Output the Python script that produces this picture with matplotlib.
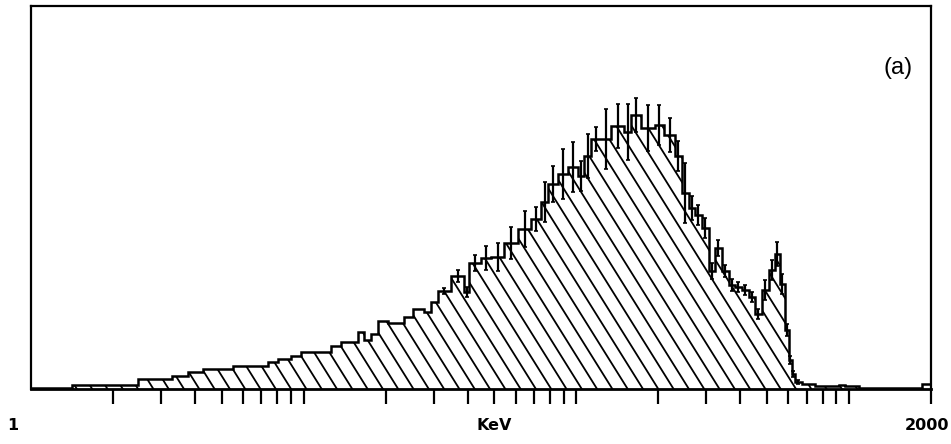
import numpy as np
import matplotlib
matplotlib.use("Agg")
import matplotlib.pyplot as plt
from matplotlib.lines import Line2D

# ---- data (energy bin edges in keV, counts in arbitrary units, statistical errors) ----
edges_kev = [1, 1.415, 2.474, 3.30, 3.78, 4.29, 5.53, 7.37, 8.02, 8.96,
             9.75, 12.57, 13.68, 15.79, 16.62, 17.64, 18.71, 20.37, 23.32, 25.16,
             27.62, 29.31, 31.10, 34.71, 38.75, 40.43, 44.75, 48.70, 54.36, 61.19,
             68.32, 74.36, 78.90, 85.88, 93.46, 101.7, 107.0, 113.5, 123.6, 134.5,
             150.2, 159.3, 173.4, 193.6, 210.6, 229.3, 243.3, 258.1, 271.6, 288.2,
             305.8, 321.7, 341.4, 362.2, 381.0, 404.3, 429.0, 451.2, 478.7, 508.1,
             534.5, 557.6, 581.7, 601.7, 617.2, 633.1, 671.9, 749.9, 918.9, 966.7,
             1088, 1855, 2000]

counts = [1.5, 4, 10, 13.5, 17.5, 20, 23, 27, 30, 33,
          37.5, 43, 47, 57, 49, 55, 68, 66, 72, 80,
          77, 87, 98, 113, 97, 126, 131, 132, 146, 160,
          170, 187, 205, 215, 222, 213, 233, 250, 250, 263,
          257, 274, 261, 264, 254, 233, 196, 181, 174, 161,
          118, 141, 118, 104, 102, 99, 92, 75, 99, 119,
          135, 105, 59, 29, 15, 7, 5, 3, 4.5, 3,
          1.5, 5]

errors = [0] * 22 + [3, 6, 5, 8, 12, 14, 16, 18, 12, 20,
                     18, 25, 25, 15, 22, 12, 30, 22, 28, 17,
                     23, 20, 17, 15, 30, 12, 10, 10, 8, 8,
                     6, 6, 5, 5, 5, 5, 10, 10, 12, 10,
                     6, 4, 3, 2, 0, 0, 0, 0, 0, 0]

major_ticks = [2, 3, 4, 5, 6, 7, 8, 9, 10,
               20, 30, 40, 50, 60, 70, 80, 90, 100,
               200, 300, 400, 500, 600, 700, 800, 900, 1000, 2000]

x_min_label = "1"
x_max_label = "2000"
x_unit_label = "KeV"
panel_label = "(a)"

# ---- figure ----
FW, FH = 951, 444
fig = plt.figure(figsize=(FW / 100, FH / 100), dpi=100)
L, B, W, H = 31 / FW, 55 / FH, 900 / FW, 383 / FH
ax = fig.add_axes([L, B, W, H])
ax.set_xscale('log')
ax.set_xlim(1, 2000)
ax.set_ylim(0, 383)

edges = np.array(edges_kev, dtype=float)
cnt = np.array(counts, dtype=float)
err = np.array(errors, dtype=float)

# filled region (used as clip path for the hand-drawn hatching)
fillpatch = ax.stairs(cnt, edges, fill=True, facecolor='white',
                      edgecolor='none', baseline=0, zorder=1)

# steep "\" hatching clipped to the histogram area
W_px, H_px = W * FW, H * FH
slope = 1.6
spacing = 15.3
for xb in np.arange(0, W_px + H_px / slope + spacing, spacing):
    x0 = (xb - H_px / slope) / W_px
    x1 = xb / W_px
    ln = Line2D([x0, x1], [1, 0], transform=ax.transAxes,
                color='black', lw=1.3, zorder=2)
    ln.set_clip_path(fillpatch)
    ax.add_line(ln)

# outline
ax.stairs(cnt, edges, fill=False, color='black', lw=1.8, baseline=0, zorder=3)

# error bars
centers = np.sqrt(edges[:-1] * edges[1:])
m = err > 0
ax.errorbar(centers[m], cnt[m], yerr=err[m], fmt='none', ecolor='black',
            elinewidth=1.6, capsize=1.5, capthick=1.2, zorder=4)

# frame
for s in ax.spines.values():
    s.set_color('black')
    s.set_linewidth(1.6)
ax.spines['bottom'].set_linewidth(2.0)

ax.set_xticks(major_ticks)
ax.xaxis.set_minor_locator(matplotlib.ticker.NullLocator())
ax.tick_params(axis='x', which='major', direction='out', length=11,
               width=1.6, color='black', labelbottom=False)
ax.set_yticks([])

# texts
fkw = dict(family='DejaVu Sans', fontweight='bold', fontsize=11.5, color='black')
fig.text(7 / FW, (FH - 425) / FH, x_min_label, ha='left', va='center', **fkw)
fig.text(477 / FW, (FH - 425) / FH, x_unit_label, ha='left', va='center', **fkw)
fig.text(949 / FW, (FH - 425) / FH, x_max_label, ha='right', va='center', **fkw)
fig.text(898 / FW, (FH - 68) / FH, panel_label, ha='center', va='center',
         family='Liberation Sans', fontsize=17, color='black')

fig.savefig('out.png', dpi=100, facecolor='white')
